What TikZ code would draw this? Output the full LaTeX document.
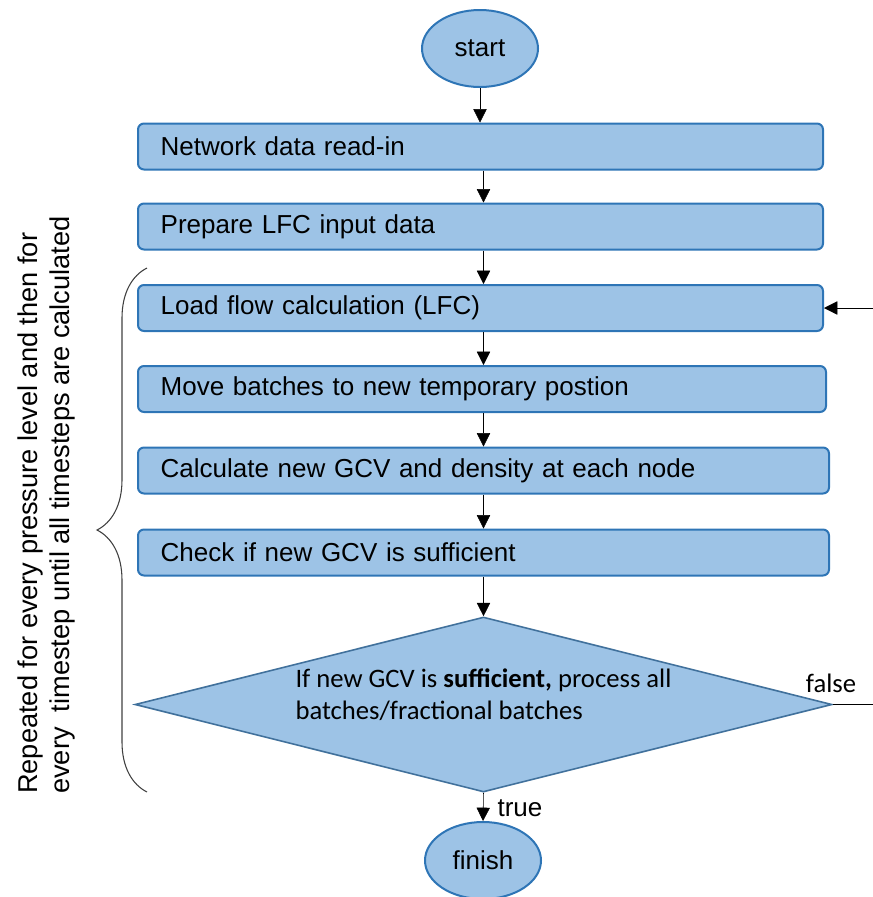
\documentclass[tikz,border=0pt]{standalone}
\usepackage{fontspec}
\setmainfont{Liberation Sans}
\newfontfamily\calibrifont{Carlito}
\usetikzlibrary{arrows.meta,shapes.geometric,decorations.pathreplacing}
\definecolor{boxfill}{RGB}{157,195,230}
\definecolor{boxline}{RGB}{46,117,182}
\definecolor{decline}{RGB}{65,113,156}

\begin{document}
\begin{tikzpicture}[x=0.75pt,y=-0.75pt,>={Triangle[width=10pt,length=10pt]},
  every node/.style={font=\fontsize{19.5}{24}\selectfont},
  proc/.style={draw=boxline,fill=boxfill,line width=1.5pt,rounded corners=4.5pt,anchor=west,
    minimum height=34.5pt,text width=#1,inner xsep=17pt,align=left},
  term/.style={draw=boxline,fill=boxfill,line width=1.5pt,ellipse,minimum width=87pt,
    minimum height=57.75pt,inner sep=0pt},
  decision/.style={draw=decline,fill=boxfill,line width=1.2pt,diamond,aspect=3.98,minimum width=522.75pt,
    minimum height=131.25pt,inner sep=0pt,align=left,font=\calibrifont\fontsize{20}{24}\selectfont}]
  \useasboundingbox (0,0) rectangle (873,897);

  % flow
  \node[term]               (start)  at (480,48.5)    {start};
  \node[proc=479.75pt]      (read)   at (137,146.5)   {Network data read-in};
  \node[proc=479.75pt]      (prep)   at (137,226.5)   {Prepare LFC input data};
  \node[proc=479.75pt]      (lfc)    at (137,308)     {Load flow calculation (LFC)};
  \node[proc=482pt]         (move)   at (137,389)     {Move batches to new temporary postion};
  \node[proc=484.25pt]      (calc)   at (137,470.5)   {Calculate new GCV and density at each node};
  \node[proc=484.25pt]      (suff)   at (137,552.5)   {Check if new GCV is sufficient};
  \node[decision]           (check)  at (483.5,704.5) {If new GCV is \textbf{sufficient,} process all\\batches/fractional batches\\[-8pt]};
  \node[term]               (finish) at (483,860.5)   {finish};
  \coordinate               (loopin)   at (873,308);
  \coordinate               (falseend) at (873,704.5);

  \node[font=\calibrifont\fontsize{20}{24}\selectfont] (falselbl) at (831,683) {false};
  \node                     (truelbl) at (520,808)    {true};

  \draw[->] (start.south) -- (start.south |- read.north);
  \draw[->] (check.north |- read.south) -- (check.north |- prep.north);
  \draw[->] (check.north |- prep.south) -- (check.north |- lfc.north);
  \draw[->] (check.north |- lfc.south)  -- (check.north |- move.north);
  \draw[->] (check.north |- move.south) -- (check.north |- calc.north);
  \draw[->] (check.north |- calc.south) -- (check.north |- suff.north);
  \draw[->] (check.north |- suff.south) -- (check.north);
  \draw[->] (check.south) -- (finish.north);
  \draw[->] (loopin) -- (lfc.east);
  \draw     (check.east) -- (falseend);

  % loop brace
  \draw[decorate,decoration={brace,amplitude=37.5pt},line width=0.8pt,draw=black!75] (147,792) -- (147,268);
  \node[rotate=90,align=left,font=\fontsize{20.4}{24}\selectfont] (note) at (46,505)
    {Repeated for every pressure level and then for\\every\ \ timestep until all timesteps are calculated};
\end{tikzpicture}
\end{document}
